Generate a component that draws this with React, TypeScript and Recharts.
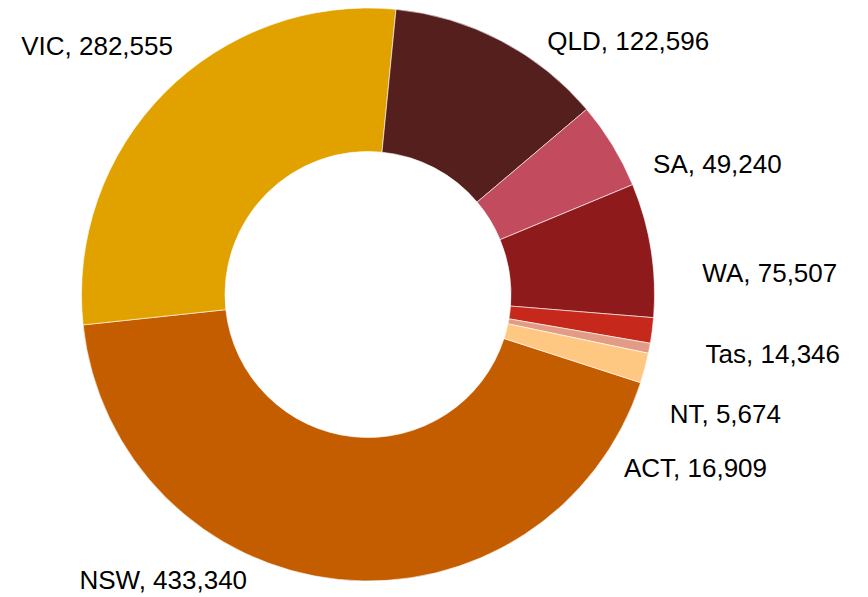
import { PieChart, Pie, Cell } from 'recharts';

const states = ['NSW', 'VIC', 'QLD', 'SA', 'WA', 'Tas', 'NT', 'ACT'];
const counts = [433340, 282555, 122596, 49240, 75507, 14346, 5674, 16909];
const colors = ['#C45C00', '#E1A200', '#541F1D', '#C24B5E', '#8E1A1C', '#C6281C', '#E29C86', '#FFC882'];

// label nudges so the text lands where the original layout put it
const labelShift = {
  NSW: [-90, -13],
  VIC: [18, -37],
  QLD: [40, 12],
  SA: [29, 26],
  WA: [38, 25],
  Tas: [40, 22],
  NT: [7, 63],
  ACT: [-34, 96],
};

const RADIAN = Math.PI / 180;

const renderLabel = ({ cx, cy, midAngle, outerRadius, name, value }) => {
  const r = outerRadius + 13.5;
  const x0 = cx + r * Math.cos(-midAngle * RADIAN);
  const y0 = cy + r * Math.sin(-midAngle * RADIAN);
  const [dx, dy] = labelShift[name] || [0, 0];
  const left = x0 < cx;
  return (
    <text
      x={x0 + dx}
      y={y0 + dy}
      textAnchor={left ? 'end' : 'start'}
      dominantBaseline="central"
      fill="#000"
      fontSize={26}
      fontFamily="'Liberation Sans', Arial, sans-serif"
    >
      {`${name}, ${value.toLocaleString('en-US')}`}
    </text>
  );
};

export default function App() {
  const data = states.map((s, i) => ({ name: s, value: counts[i] }));
  return (
    <div style={{ position: 'absolute', left: 0, top: 0, width: 868, height: 597, background: '#fff' }}>
      <PieChart width={868} height={597} margin={{ top: 0, right: 0, bottom: 0, left: 0 }}>
        <Pie
          data={data}
          dataKey="value"
          nameKey="name"
          cx={368}
          cy={294.5}
          innerRadius={143}
          outerRadius={286.5}
          startAngle={-17.93}
          endAngle={-377.93}
          stroke="#fff"
          strokeWidth={0.6}
          label={renderLabel}
          labelLine={false}
          isAnimationActive={false}
        >
          {data.map((entry, index) => (
            <Cell key={`cell-${index}`} fill={colors[index]} />
          ))}
        </Pie>
      </PieChart>
    </div>
  );
}
